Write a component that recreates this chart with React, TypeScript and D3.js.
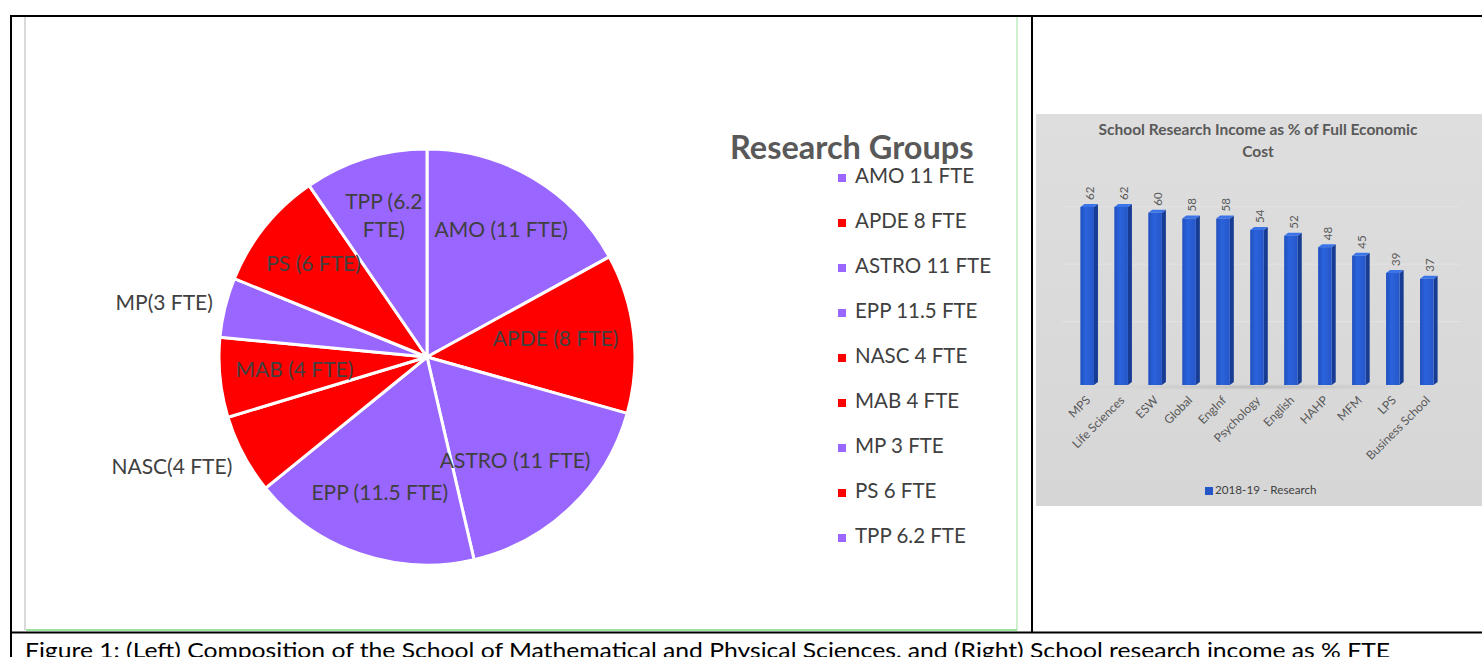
import React from 'react'
import * as d3 from 'd3'

// pie: research groups of the school (FTE)
const groups = ['AMO', 'APDE', 'ASTRO', 'EPP', 'NASC', 'MAB', 'MP', 'PS', 'TPP']
const fte = [11, 8, 11, 11.5, 4, 4, 3, 6, 6.2]
const groupKind = ['theory', 'applied', 'theory', 'theory', 'applied', 'applied', 'theory', 'applied', 'theory']
const sliceLabels = [['AMO (11 FTE)'], ['APDE (8 FTE)'], ['ASTRO (11 FTE)'], ['EPP (11.5 FTE)'], ['NASC(4 FTE)'], ['MAB (4 FTE)'], ['MP(3 FTE)'], ['PS (6 FTE)'], ['TPP (6.2', 'FTE)']]
const outsideLabels = ['NASC', 'MP']
const legendLabels = ['AMO 11 FTE', 'APDE 8 FTE', 'ASTRO 11 FTE', 'EPP 11.5 FTE', 'NASC 4 FTE', 'MAB 4 FTE', 'MP 3 FTE', 'PS 6 FTE', 'TPP 6.2 FTE']

// bars: school research income as % of full economic cost
const schools = ['MPS', 'Life Sciences', 'ESW', 'Global', 'EngInf', 'Psychology', 'English', 'HAHP', 'MFM', 'LPS', 'Business School']
const incomePct = [62, 62, 60, 58, 58, 54, 52, 48, 45, 39, 37]
const gridTicks = [20, 40, 60]

const W = 1482, H = 657
const FONT = 'Lato, "Open Sans", sans-serif'

const color = d3.scaleOrdinal<string, string>().domain(['theory', 'applied']).range(['#9966ff', '#ff0000'])

let ctx: CanvasRenderingContext2D | null = null
function textWidth(s: string, size: number) {
  if (!ctx) ctx = document.createElement('canvas').getContext('2d')
  if (!ctx) return s.length * size * 0.5
  ctx.font = `${size}px Lato`
  return ctx.measureText(s).width
}

function PieChart() {
  const cx = 427, cy = 357, R = 208
  const fs = 21
  const data = groups.map((g, i) => ({ g, v: fte[i], kind: groupKind[i], lines: sliceLabels[i] }))
  const arcs = d3.pie<any>().sort(null).value(d => d.v).startAngle(0)(data)
  const arc = d3.arc<any>().innerRadius(0).outerRadius(R)
  const labelArc = d3.arc<any>().innerRadius(R * 0.7).outerRadius(R * 0.7)
  return (
    <g>
      {arcs.map((a, i) => (
        <path key={i} d={arc(a) as string} transform={`translate(${cx},${cy})`}
          fill={color(a.data.kind)} stroke="#fff" strokeWidth={3} strokeLinejoin="round" />
      ))}
      {arcs.map((a, i) => {
        const mid = (a.startAngle + a.endAngle) / 2
        if (outsideLabels.includes(a.data.g)) {
          const r = R * 1.06
          const x = cx + r * Math.sin(mid)
          const y = cy - r * Math.cos(mid) + (Math.cos(mid) < 0 ? 8 : 0)
          return (
            <text key={i} x={x} y={y} textAnchor="end" dominantBaseline="middle"
              fontFamily={FONT} fontSize={fs} fill="#404040">{a.data.lines[0]}</text>
          )
        }
        let [lx, ly] = labelArc.centroid(a)
        // keep the label inside the circle horizontally
        const half = d3.max(a.data.lines as string[], l => textWidth(l, fs))! / 2
        const chord = Math.sqrt(Math.max(0, R * R - ly * ly)) - 16
        lx = Math.max(-chord + half, Math.min(chord - half, lx))
        const n = a.data.lines.length
        return (
          <text key={i} textAnchor="middle" fontFamily={FONT} fontSize={fs} fill="#404040">
            {a.data.lines.map((l: string, j: number) => (
              <tspan key={j} x={cx + lx} y={cy + ly + (j - (n - 1) / 2) * 28} dominantBaseline="middle">{l}</tspan>
            ))}
          </text>
        )
      })}
      <text x={730} y={159} fontFamily={FONT} fontSize={32.5} fontWeight="bold" fill="#595959">Research Groups</text>
      {legendLabels.map((l, i) => {
        const y = 178 + i * 45
        return (
          <g key={l}>
            <rect x={838} y={y - 4} width={8} height={8} fill={color(groupKind[i])} />
            <text x={855} y={y} dominantBaseline="middle" fontFamily={FONT} fontSize={20.5} fill="#404040">{l}</text>
          </g>
        )
      })}
    </g>
  )
}

function BarChart() {
  const x = d3.scaleBand().domain(schools).range([1060, 1454]).padding(0.6)
  const y = d3.scaleLinear().domain([0, 70]).range([385, 184])
  const bw = x.bandwidth()
  const depth = 4
  return (
    <g>
      <defs>
        <linearGradient id="bgGrad" x1="0" y1="0" x2="0" y2="1">
          <stop offset="0" stopColor="#dedede" />
          <stop offset="1" stopColor="#d6d6d6" />
        </linearGradient>
        <linearGradient id="barFront" x1="0" y1="0" x2="1" y2="0">
          <stop offset="0" stopColor="#1f4fbf" />
          <stop offset="0.4" stopColor="#2b63dc" />
          <stop offset="1" stopColor="#2556c8" />
        </linearGradient>
        <radialGradient id="floorShadow" cx="0.5" cy="0.5" r="0.5">
          <stop offset="0" stopColor="#b8b8b8" />
          <stop offset="1" stopColor="#d8d8d8" stopOpacity={0} />
        </radialGradient>
      </defs>
      <rect x={1036} y={114} width={W - 1036} height={392} fill="url(#bgGrad)" />
      <text textAnchor="middle" fontFamily={FONT} fontSize={15.5} fontWeight="bold" fill="#595959">
        <tspan x={1258} y={135}>School Research Income  as % of Full Economic</tspan>
        <tspan x={1258} y={157}>Cost</tspan>
      </text>
      {gridTicks.map(t => (
        <line key={t} x1={1062} x2={1460} y1={y(t) - 6} y2={y(t) - 6} stroke="#e3e3e3" strokeWidth={1} />
      ))}
      <ellipse cx={1258} cy={387} rx={205} ry={4} fill="url(#floorShadow)" />
      {schools.map((s, i) => {
        const x0 = x(s) as number
        const top = y(incomePct[i])
        const base = y(0)
        return (
          <g key={s}>
            <polygon points={`${x0 + bw},${top} ${x0 + bw + depth},${top - 3} ${x0 + bw + depth},${base - 3} ${x0 + bw},${base}`} fill="#173c94" />
            <polygon points={`${x0},${top} ${x0 + depth},${top - 3} ${x0 + bw + depth},${top - 3} ${x0 + bw},${top}`} fill="#3a74e8" />
            <rect x={x0} y={top} width={bw} height={base - top} fill="url(#barFront)" />
            <text transform={`translate(${x0 + bw / 2 + 4},${top - 7}) rotate(-90)`} dominantBaseline="middle"
              fontFamily={FONT} fontSize={11.5} fill="#595959">{incomePct[i]}</text>
            <text transform={`translate(${x0 + bw / 2 + 4},${base + 16}) rotate(-45)`} textAnchor="end"
              fontFamily={FONT} fontSize={12} fill="#595959">{s}</text>
          </g>
        )
      })}
      <rect x={1205} y={487} width={8} height={8} fill="#2556c8" />
      <text x={1215} y={491} dominantBaseline="middle" fontFamily={FONT} fontSize={11.7} fill="#404040">2018-19 - Research</text>
    </g>
  )
}

export default function App() {
  return (
    <svg width={W} height={H} style={{ position: 'absolute', left: 0, top: 0, background: '#fff' }}>
      {/* chart frame inside the left cell */}
      <line x1={25} x2={25} y1={17} y2={630} stroke="#d9d9d9" strokeWidth={2} />
      <line x1={26} x2={1017} y1={630} y2={630} stroke="#7ddc7d" strokeWidth={1.5} />
      <line x1={1017} x2={1017} y1={17} y2={630} stroke="#9be39b" strokeWidth={1} />
      <PieChart />
      <BarChart />
      {/* table borders */}
      <line x1={10} x2={W} y1={16} y2={16} stroke="#000" strokeWidth={2} />
      <line x1={11} x2={11} y1={15} y2={H} stroke="#000" strokeWidth={2} />
      <line x1={1032} x2={1032} y1={15} y2={632} stroke="#000" strokeWidth={2} />
      <line x1={10} x2={W} y1={632.5} y2={632.5} stroke="#000" strokeWidth={2} />
      <text x={25} y={658} fontFamily={FONT} fontSize={21} fill="#000" textLength={1365} lengthAdjust="spacingAndGlyphs">
        Figure 1: (Left) Composition of the School of Mathematical and Physical Sciences, and (Right) School research income as % FTE
      </text>
    </svg>
  )
}
